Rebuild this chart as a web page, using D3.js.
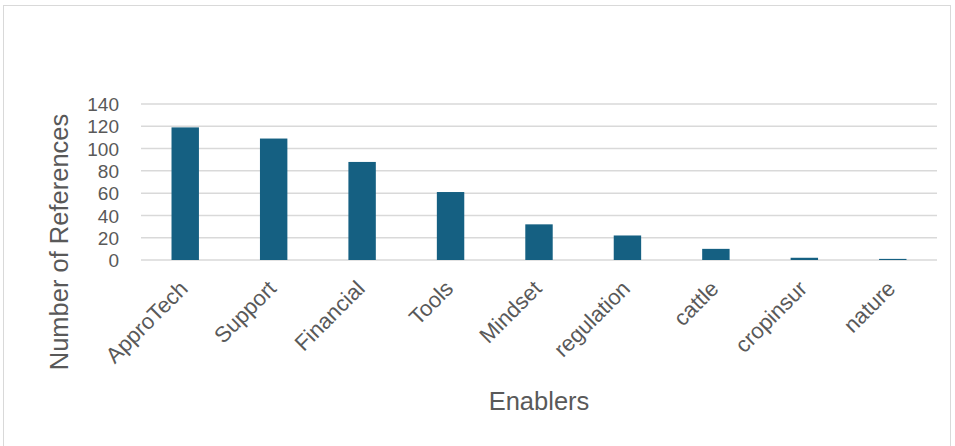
<!DOCTYPE html>
<html>
<head>
<meta charset="utf-8">
<script src="https://cdn.jsdelivr.net/npm/d3@7"></script>
<style>
  html, body { margin: 0; padding: 0; background: #fff; }
  svg { display: block; font-family: "Liberation Sans", Arial, sans-serif; }
</style>
</head>
<body>
<svg id="chart" width="955" height="446"></svg>
<script>
// Enabler categories and their reference counts
const categories = ["ApproTech", "Support", "Financial", "Tools", "Mindset", "regulation", "cattle", "cropinsur", "nature"];
const references = [119, 109, 88, 61, 32, 22, 10, 2, 1];
const yTicks = [0, 20, 40, 60, 80, 100, 120, 140];
const xTitle = "Enablers";
const yTitle = "Number of References";

const svg = d3.select("#chart");
const W = 955, H = 446;
const plot = { left: 141, right: 937, top: 104, bottom: 260 };
const textColor = "#595959";

// outer chart frame
svg.append("rect")
  .attr("x", 3.5).attr("y", 5.5)
  .attr("width", W - 8).attr("height", H - 5)
  .attr("fill", "#fff")
  .attr("stroke", "#d9d9d9").attr("stroke-width", 1);

const x = d3.scaleBand().domain(categories).range([plot.left, plot.right]).padding(0);
const y = d3.scaleLinear().domain([0, 140]).range([plot.bottom, plot.top]);

// horizontal gridlines
svg.append("g")
  .selectAll("line")
  .data(yTicks)
  .join("line")
  .attr("x1", plot.left).attr("x2", plot.right)
  .attr("y1", d => y(d)).attr("y2", d => y(d))
  .attr("stroke", "#d9d9d9").attr("stroke-width", 1.5);

// y tick labels
const yAxis = d3.axisLeft(y).tickValues(yTicks).tickSize(0).tickPadding(0);
const gy = svg.append("g").attr("transform", `translate(${plot.left - 22},0)`).call(yAxis);
gy.select(".domain").remove();
gy.selectAll("text")
  .attr("fill", textColor)
  .style("font-size", "19px")
  .attr("dy", "0.35em");

// bars
const barW = x.bandwidth() * 0.31;
svg.append("g")
  .selectAll("rect")
  .data(categories.map((c, i) => ({ c, v: references[i] })))
  .join("rect")
  .attr("x", d => x(d.c) + x.bandwidth() / 2 - barW / 2)
  .attr("y", d => y(d.v))
  .attr("width", barW)
  .attr("height", d => y(0) - y(d.v))
  .attr("fill", "#156082");

// rotated category labels
const xAxis = d3.axisBottom(x).tickSize(0).tickPadding(0);
const gx = svg.append("g").attr("transform", `translate(0,${plot.bottom})`).call(xAxis);
gx.select(".domain").remove();
gx.selectAll(".tick text")
  .attr("fill", textColor)
  .style("font-size", "22px")
  .attr("text-anchor", "end")
  .attr("dy", null)
  .attr("y", null)
  .attr("transform", "translate(4,30) rotate(-45)");

// axis titles
svg.append("text")
  .attr("x", (plot.left + plot.right) / 2).attr("y", 410)
  .attr("text-anchor", "middle")
  .attr("fill", textColor)
  .style("font-size", "25.5px")
  .text(xTitle);

svg.append("text")
  .attr("transform", `translate(68,242) rotate(-90)`)
  .attr("text-anchor", "middle")
  .attr("fill", textColor)
  .style("font-size", "25.5px")
  .text(yTitle);
</script>
</body>
</html>
